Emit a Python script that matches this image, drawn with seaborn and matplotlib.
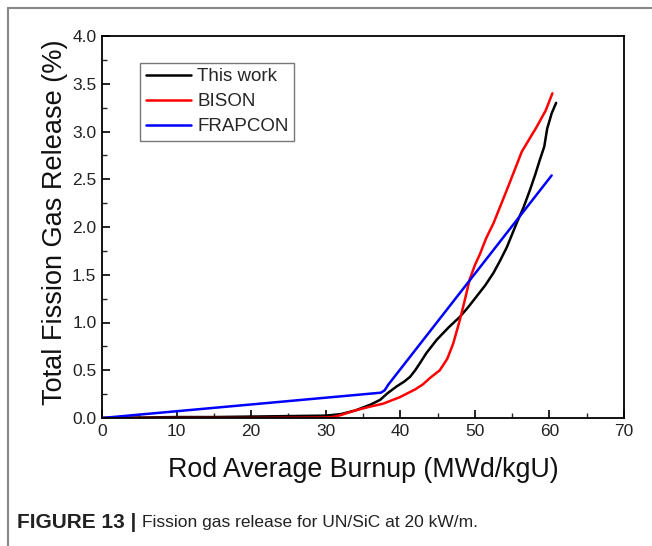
import matplotlib
matplotlib.use("Agg")
import matplotlib.pyplot as plt
import seaborn as sns
import pandas as pd
from matplotlib.lines import Line2D
from matplotlib.ticker import MultipleLocator

# ---- data ----
this_work_x = [0, 5, 10, 15, 20, 25, 30, 32, 34, 36, 37.3, 38.3, 39.5, 40.5, 41.3, 42, 42.6,
               43.5, 44.9, 46.5, 48, 49.1, 50.2, 51.4, 52.5, 53.4, 54.3, 55.6, 56.5, 57.4,
               58.1, 58.7, 59.3, 59.7, 60.3, 60.9]
this_work_y = [0, 0.005, 0.01, 0.01, 0.015, 0.02, 0.025, 0.04, 0.08, 0.14, 0.19, 0.26, 0.33,
               0.38, 0.43, 0.5, 0.57, 0.68, 0.82, 0.95, 1.06, 1.16, 1.27, 1.39, 1.52, 1.65,
               1.79, 2.04, 2.2, 2.39, 2.55, 2.70, 2.84, 3.03, 3.19, 3.30]

bison_x = [0, 10, 20, 30, 31, 32, 34, 36, 37.7, 40, 42, 43, 44, 45.3, 46.3, 47.1, 48, 48.7,
           49.3, 50, 50.7, 51.5, 52.5, 54.3, 56.3, 58.3, 59.5, 60.4]
bison_y = [0, 0, 0, 0.005, 0.01, 0.03, 0.08, 0.12, 0.15, 0.22, 0.3, 0.35, 0.42, 0.5, 0.62,
           0.78, 1.03, 1.25, 1.45, 1.6, 1.72, 1.88, 2.04, 2.39, 2.79, 3.05, 3.22, 3.40]

frapcon_x = [0, 37.4, 37.9, 38.4, 60.3]
frapcon_y = [0, 0.265, 0.29, 0.35, 2.54]

series_names = ["This work", "BISON", "FRAPCON"]
series_colors = ["#000000", "#ff0000", "#0000ff"]

x_ticks = [0, 10, 20, 30, 40, 50, 60, 70]
y_ticks = [0.0, 0.5, 1.0, 1.5, 2.0, 2.5, 3.0, 3.5, 4.0]

frames = []
for name, xs, ys in zip(series_names, [this_work_x, bison_x, frapcon_x],
                        [this_work_y, bison_y, frapcon_y]):
    frames.append(pd.DataFrame({"x": xs, "y": ys, "series": name}))
df = pd.concat(frames, ignore_index=True)

sns.set_style("white")
plt.rcParams["font.family"] = ["Liberation Sans", "DejaVu Sans"]

W, H = 652, 546
fig = plt.figure(figsize=(W / 100, H / 100), dpi=100)
ax = fig.add_axes([102 / W, 1 - 418 / H, (624 - 102) / W, (418 - 36) / H])

sns.lineplot(data=df, x="x", y="y", hue="series", hue_order=series_names,
             palette=dict(zip(series_names, series_colors)), sort=False,
             estimator=None, linewidth=1.8, ax=ax, legend=False)

ax.set_xlim(0, 70)
ax.set_ylim(0, 4.0)
ax.set_xticks(x_ticks)
ax.set_yticks(y_ticks)
ax.set_xticklabels([str(t) for t in x_ticks])
ax.set_yticklabels([f"{t:.1f}" for t in y_ticks])
ax.xaxis.set_minor_locator(MultipleLocator(5))
ax.yaxis.set_minor_locator(MultipleLocator(0.25))
ax.tick_params(which="major", direction="in", length=6, width=1.2, labelsize=12.5,
               colors="black", labelcolor="#222222", bottom=True, left=True, pad=4)
ax.tick_params(which="minor", direction="in", length=3.5, width=1.0, bottom=True, left=True)
for s in ax.spines.values():
    s.set_color("black")
    s.set_linewidth(1.3)

ax.set_xlabel("Rod Average Burnup (MWd/kgU)", fontsize=19.3, labelpad=13, color="#111111")
ax.set_ylabel("Total Fission Gas Release (%)", fontsize=19.5, color="#111111")
ax.yaxis.set_label_coords(-0.066, 0.513)

handles = [Line2D([0], [0], color=c, lw=1.8) for c in series_colors]
leg = ax.legend(handles, series_names, loc="upper left", bbox_to_anchor=(0.073, 0.93),
                fontsize=13.5, frameon=True, fancybox=False, edgecolor="#555555",
                handlelength=2.4, handletextpad=0.35, borderpad=0.3, labelspacing=0.42,
                borderaxespad=0)
leg.get_frame().set_linewidth(1.0)

# outer frame lines
fig.add_artist(Line2D([8 / W, 1], [1 - 8 / H, 1 - 8 / H], color="#888888", lw=1.5,
                      transform=fig.transFigure))
fig.add_artist(Line2D([8 / W, 8 / W], [0, 1 - 8 / H], color="#888888", lw=1.5,
                      transform=fig.transFigure))

# caption
t1 = fig.text(17 / W, 1 - 523 / H, "FIGURE 13 |", fontsize=15, fontweight="bold",
              va="center", ha="left", color="#222222")
fig.canvas.draw()
bb = t1.get_window_extent(renderer=fig.canvas.get_renderer())
fig.text((bb.x1 + 6) / W, 1 - 523 / H, "Fission gas release for UN/SiC at 20 kW/m.",
         fontsize=12.5, va="center", ha="left", color="#222222")

fig.savefig("out.png", dpi=100)
